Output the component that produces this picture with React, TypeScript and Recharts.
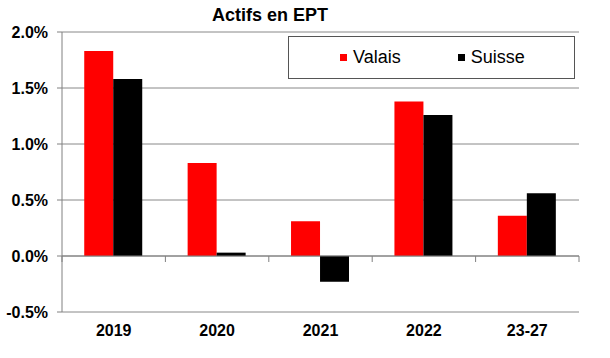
import { Bar, BarChart, CartesianGrid, ReferenceLine, XAxis, YAxis } from "recharts";

const categories = ["2019", "2020", "2021", "2022", "23-27"];
const valais = [1.83, 0.83, 0.31, 1.38, 0.36];
const suisse = [1.58, 0.03, -0.23, 1.26, 0.56];
const yTicks = [-0.5, 0, 0.5, 1.0, 1.5, 2.0];
const seriesNames = ["Valais", "Suisse"];
const seriesColors = ["#ff0000", "#000000"];

const data = categories.map((c, i) => ({ year: c, Valais: valais[i], Suisse: suisse[i] }));

const FONT = "'Liberation Sans', Arial, sans-serif";

// zero line with ticks at category boundaries, like the Excel original
const ZeroLine = (props: any) => {
  const { x1, x2, y1 } = props;
  const n = categories.length;
  const step = (x2 - x1) / n;
  return (
    <g>
      <line x1={x1} x2={x2} y1={y1} y2={y1} stroke="#808080" strokeWidth={1} />
      {Array.from({ length: n + 1 }, (_, k) => (
        <line key={k} x1={x1 + k * step} x2={x1 + k * step} y1={y1} y2={y1 + 6} stroke="#808080" strokeWidth={1} />
      ))}
    </g>
  );
};

const LegendBox = () => (
  <div
    style={{
      position: "absolute",
      left: 288,
      top: 36,
      width: 285,
      height: 41,
      border: "1px solid #555",
      background: "#fff",
      display: "flex",
      alignItems: "center",
      fontFamily: FONT,
      fontSize: 18,
      color: "#000",
    }}
  >
    {seriesNames.map((name, i) => (
      <span key={name} style={{ display: "flex", alignItems: "center", marginLeft: i === 0 ? 51 : 57 }}>
        <span style={{ display: "inline-block", width: 7, height: 7, background: seriesColors[i], marginRight: 6 }} />
        <span>{name}</span>
      </span>
    ))}
  </div>
);

export default function App() {
  return (
    <div style={{ position: "absolute", left: 0, top: 0, width: 610, height: 358, background: "#fff" }}>
      <BarChart
        width={610}
        height={358}
        data={data}
        margin={{ top: 32, right: 31, left: 0, bottom: 16 }}
        barCategoryGap="21.5%"
        barGap={0}
      >
        <CartesianGrid vertical={false} stroke="#888" />
        <XAxis
          dataKey="year"
          axisLine={false}
          tickLine={false}
          height={30}
          tick={{ fill: "#000", fontFamily: FONT, fontWeight: "bold", fontSize: 16 }}
          tickMargin={7}
        />
        <YAxis
          domain={[-0.5, 2.0]}
          ticks={yTicks}
          width={62}
          axisLine={{ stroke: "#808080" }}
          tickLine={{ stroke: "#808080" }}
          tickSize={5}
          tick={{ fill: "#000", fontFamily: FONT, fontWeight: "bold", fontSize: 16 }}
          tickFormatter={(v: number) => `${v.toFixed(1)}%`}
          tickMargin={9}
        />
        <ReferenceLine y={0} shape={ZeroLine} />
        <Bar dataKey="Valais" fill={seriesColors[0]} isAnimationActive={false} />
        <Bar dataKey="Suisse" fill={seriesColors[1]} isAnimationActive={false} />
      </BarChart>
      <div
        style={{
          position: "absolute",
          left: 170,
          width: 200,
          top: 5,
          textAlign: "center",
          fontFamily: FONT,
          fontWeight: "bold",
          fontSize: 18,
        }}
      >
        Actifs en EPT
      </div>
      <LegendBox />
    </div>
  );
}
